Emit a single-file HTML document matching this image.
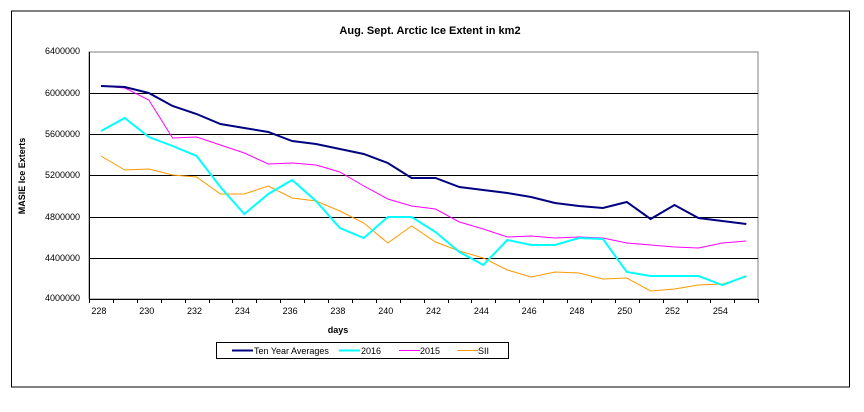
<!DOCTYPE html>
<html><head><meta charset="utf-8"><style>body{margin:0;background:#fff}</style></head><body>
<svg width="864" height="407" xmlns="http://www.w3.org/2000/svg" font-family="Liberation Sans, Arial, sans-serif">
<rect x="0" y="0" width="864" height="407" fill="#fff"/>
<rect x="11.5" y="11" width="838" height="376" fill="none" stroke="#000" stroke-width="1"/>
<text x="430" y="34" font-size="11" font-weight="bold" text-anchor="middle">Aug. Sept. Arctic Ice Extent in km2</text>
<rect x="89" y="52" width="669" height="247" fill="#fff" stroke="#808080"/>
<g stroke="#000" stroke-width="1">
<line x1="89" y1="93.5" x2="758" y2="93.5"/><line x1="89" y1="134.5" x2="758" y2="134.5"/>
<line x1="89" y1="175.5" x2="758" y2="175.5"/><line x1="89" y1="217.5" x2="758" y2="217.5"/>
<line x1="89" y1="258.5" x2="758" y2="258.5"/>
<line x1="89.5" y1="52" x2="89.5" y2="299"/><line x1="89" y1="299.5" x2="758" y2="299.5"/>
</g>
<g font-size="9" fill="#000" text-anchor="end">
<text x="80" y="54">6400000</text><text x="80" y="96">6000000</text><text x="80" y="137">5600000</text>
<text x="80" y="178">5200000</text><text x="80" y="220">4800000</text><text x="80" y="261">4400000</text><text x="80" y="301">4000000</text>
</g>
<text transform="translate(25,176) rotate(-90)" font-size="9" font-weight="bold" text-anchor="middle">MASIE Ice Exterts</text>
<g id="ticks" stroke="#000"></g>
<g font-size="9" text-anchor="middle" id="xl"></g>
<text x="338" y="333" font-size="9" font-weight="bold" text-anchor="middle">days</text>
<rect x="216.5" y="342.5" width="292" height="16" fill="#fff" stroke="#000"/>
<line x1="232" y1="350.5" x2="253" y2="350.5" stroke="#000080" stroke-width="2"/>
<text x="254" y="354" font-size="9">Ten Year Averages</text>
<line x1="339" y1="350.5" x2="360" y2="350.5" stroke="#00ffff" stroke-width="2"/>
<text x="361" y="354" font-size="9">2016</text>
<line x1="399" y1="350.5" x2="420" y2="350.5" stroke="#ff00ff" stroke-width="1"/>
<text x="420" y="354" font-size="9">2015</text>
<line x1="457" y1="350.5" x2="478" y2="350.5" stroke="#ff9900" stroke-width="1"/>
<text x="478" y="354" font-size="9">SII</text>
<g fill="none" id="series"></g>
</svg>
<script>
var ns="http://www.w3.org/2000/svg";
function X(i){return 89+23.9*(i+0.5);}
var t=document.getElementById("ticks"),xl=document.getElementById("xl");
for(var i=0;i<=28;i++){var l=document.createElementNS(ns,"line");var x=Math.round(89+23.9*i)+0.5;l.setAttribute("x1",x);l.setAttribute("x2",x);l.setAttribute("y1",299);l.setAttribute("y2",303);t.appendChild(l);}
for(var i=0;i<28;i+=2){var tx=document.createElementNS(ns,"text");tx.setAttribute("x",X(i)-2);tx.setAttribute("y",314);tx.textContent=228+i;xl.appendChild(tx);}
var S=[
["#ff9900",1,[156,170,169,175,177,194,194,186,198,201,211,223,243,226,242,251,258,270,277,272,273,279,278,291,289,285,284,277]],
["#ff00ff",1,[86,88,100,138,137,145,153,164,163,165,172,186,199,206,209,222,229,237,236,238,237,238,243,245,247,248,243,241]],
["#00ffff",2,[131,118,137,146,156,187,214,194,180,201,228,238,217,217,232,252,265,240,245,245,238,239,272,276,276,276,285,276]],
["#000080",2,[86,87,93,106,114,124,128,132,141,144,149,154,163,178,178,187,190,193,197,203,206,208,202,219,205,218,221,224]]];
var g=document.getElementById("series");
S.forEach(function(s){var p=document.createElementNS(ns,"polyline");p.setAttribute("points",s[2].map(function(y,i){return X(i).toFixed(1)+","+y}).join(" "));p.setAttribute("stroke",s[0]);p.setAttribute("stroke-width",s[1]);p.setAttribute("fill","none");g.appendChild(p);});
</script>
</body></html>
